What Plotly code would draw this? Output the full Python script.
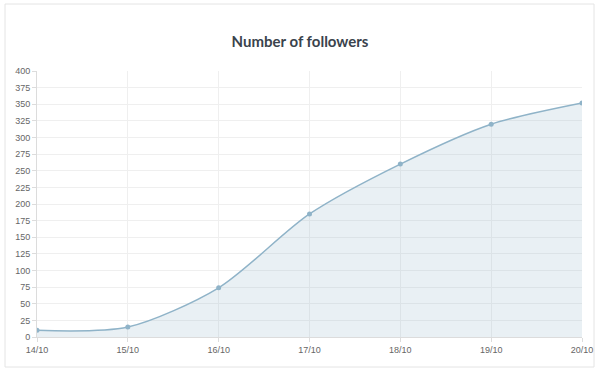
import plotly.graph_objects as go

dates = ["14/10", "15/10", "16/10", "17/10", "18/10", "19/10", "20/10"]
followers = [10, 15, 74, 185, 260, 320, 352]
y_ticks = list(range(0, 401, 25))

L, R, T, B = 37, 18, 71, 36
W, H = 600, 373
pw, ph = W - L - R, H - T - B

fig = go.Figure()
fig.add_trace(go.Scatter(
    x=list(range(len(dates))), y=followers,
    mode="lines+markers",
    line=dict(color="#8fb3c8", width=1.5, shape="spline", smoothing=0.8),
    marker=dict(color="#8fb3c8", size=5),
    fill="tozeroy", fillcolor="rgba(143,179,200,0.2)",
    hoverinfo="x+y",
))

fig.update_layout(
    width=W, height=H,
    autosize=False,
    margin=dict(l=L, r=R, t=T, b=B, autoexpand=False),
    paper_bgcolor="white", plot_bgcolor="white",
    showlegend=False,
    title=dict(text="<b>Number of followers</b>", x=0.5, xanchor="center",
               y=1 - 42 / H, yanchor="middle",
               font=dict(family="Lato", size=15, color="#3a434c")),
    xaxis=dict(
        tickmode="array", tickvals=list(range(len(dates))), ticktext=dates,
        range=[0, len(dates) - 1], automargin=False,
        showgrid=True, gridcolor="#efefef", gridwidth=1,
        zeroline=False, showline=True, linecolor="#dcdcdc", linewidth=1,
        ticks="outside", ticklen=4, tickcolor="#dcdcdc",
        tickfont=dict(family="Liberation Sans", size=9, color="#666666"),
    ),
    yaxis=dict(
        tickmode="array", tickvals=y_ticks, ticktext=[str(v) for v in y_ticks],
        range=[0, 400], automargin=False,
        showgrid=True, gridcolor="#efefef", gridwidth=1,
        zeroline=False, showline=True, linecolor="#dcdcdc", linewidth=1,
        ticks="outside", ticklen=4, tickcolor="#dcdcdc",
        tickfont=dict(family="Liberation Sans", size=9, color="#666666"),
    ),
    shapes=[dict(
        type="rect", xref="paper", yref="paper", layer="below",
        x0=(5 - L) / pw, x1=(594 - L) / pw,
        y0=(337 - 367) / ph, y1=(337 - 4) / ph,
        line=dict(color="#e4e4e4", width=1), fillcolor="rgba(0,0,0,0)",
    )],
)

fig.write_html("out.html", config={"displayModeBar": False},
               post_script="document.body.style.margin='0';document.body.style.overflow='hidden';")
